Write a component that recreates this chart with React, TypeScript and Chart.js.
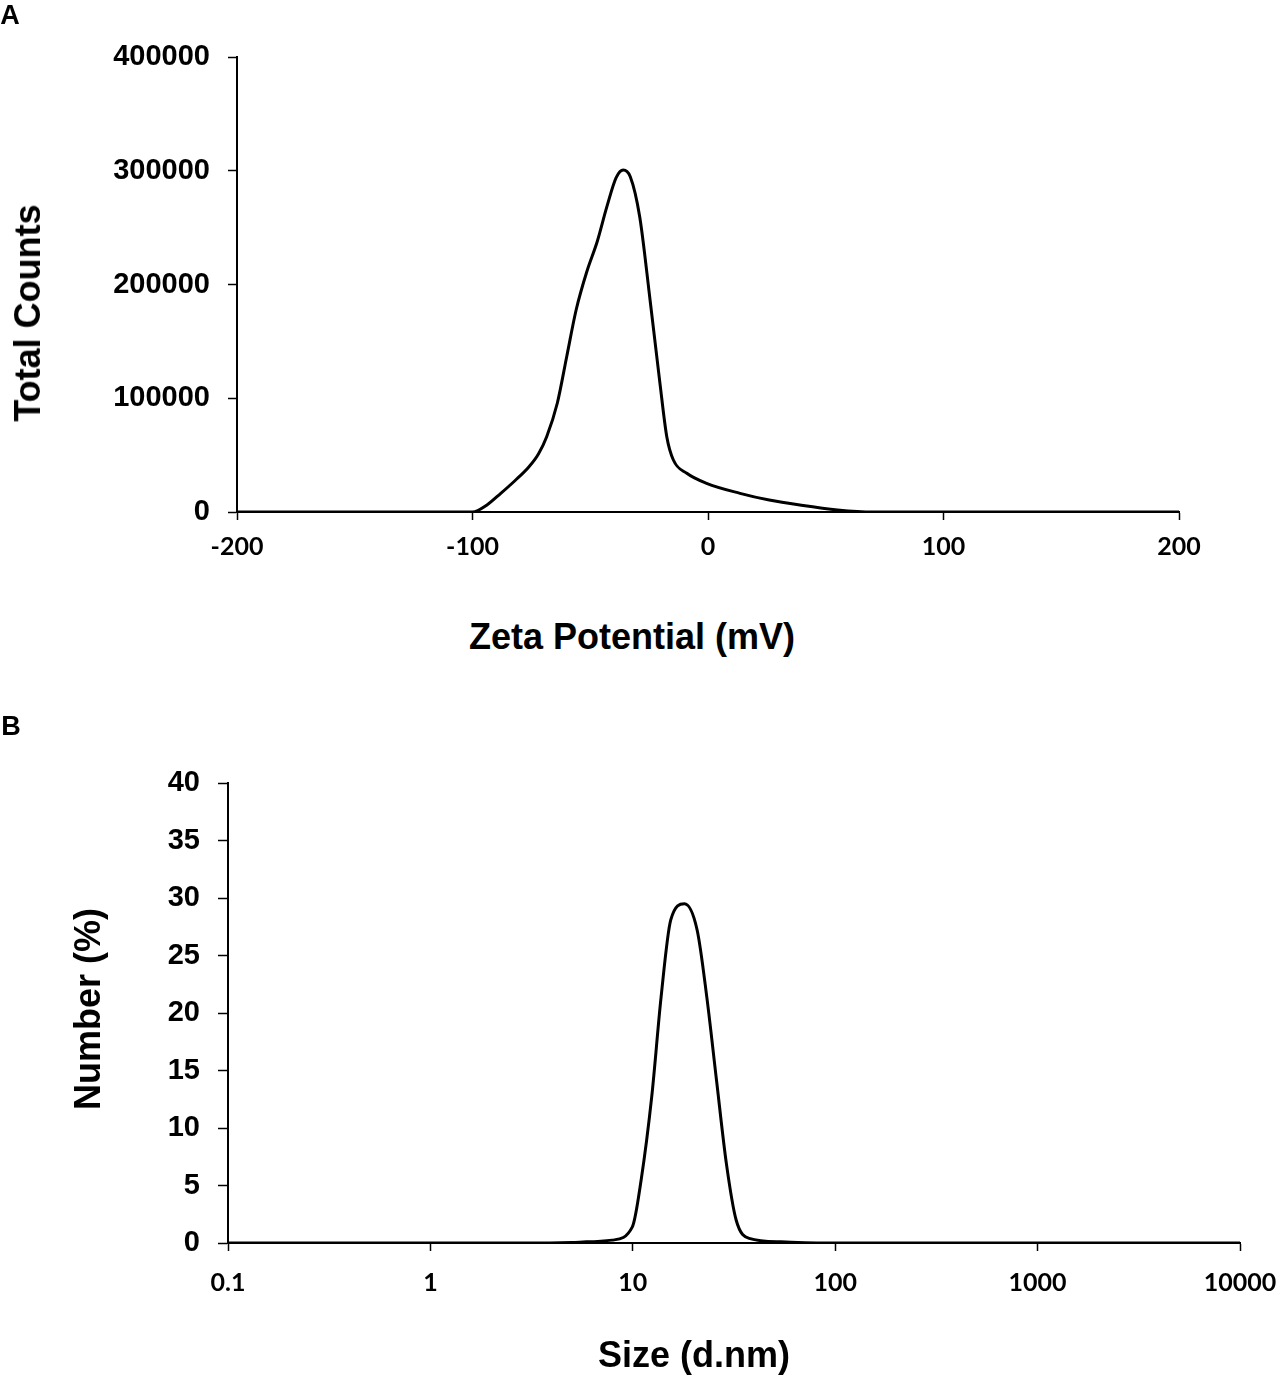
import { useEffect, useRef } from 'react';
import { Chart, registerables } from 'chart.js';

Chart.register(...registerables);

// Panel A: zeta potential distribution
const zetaMv = [-200, -150, -110, -100, -94, -88, -82, -76, -72, -68.5, -64, -60, -56, -51.5, -47, -43, -39, -36, -33, -29, -24.6, -20.4, -17.5, -14.7, -9, -0.6, 13.6, 26, 39, 55, 70, 100, 150, 200];
const zetaCounts = [0, 0, 0, 0, 6000, 16400, 27500, 39800, 51000, 66200, 95600, 136500, 177600, 211000, 238000, 268000, 294000, 300700, 294800, 259600, 186400, 113100, 66200, 45700, 34000, 25200, 16400, 10500, 6100, 1800, 0, 0, 0, 0];
const zetaXTicks = [-200, -100, 0, 100, 200];
const zetaYTicks = [0, 100000, 200000, 300000, 400000];

// Panel B: size distribution by number
const sizeNm = [0.1, 1, 3, 5, 5.9, 7.9, 9.95, 11, 12.4, 13.8, 15.4, 18, 20.8, 23.2, 25.9, 29, 32.4, 37.6, 54, 100, 1000, 10000];
const sizeNumber = [0, 0, 0, 0.05, 0.1, 0.25, 1.4, 5.5, 12.7, 21.4, 28.1, 29.5, 27.2, 21.4, 14.2, 6.9, 2.0, 0.4, 0.1, 0, 0, 0];
const sizeXTicks = [0.1, 1, 10, 100, 1000, 10000];
const sizeYTicks = [0, 5, 10, 15, 20, 25, 30, 35, 40];

const ARIAL = '"Liberation Sans", Arial, sans-serif';
const CALIBRI = 'Lato, "Open Sans", sans-serif';

interface PanelProps {
  top: number;
  height: number;
  xs: number[];
  ys: number[];
  xType: 'linear' | 'logarithmic';
  xTicks: number[];
  yTicks: number[];
  area: { left: number; right: number; top: number; bottom: number };
  yTickLength: number;
  xLabelPad: number;
}

function Panel({ top, height, xs, ys, xType, xTicks, yTicks, area, yTickLength, xLabelPad }: PanelProps) {
  const canvasRef = useRef<HTMLCanvasElement>(null);
  const chartRef = useRef<any>(null);

  useEffect(() => {
    if (!canvasRef.current) return;
    if (chartRef.current) chartRef.current.destroy();

    const points = xs.map((x, i) => ({ x, y: ys[i] }));

    chartRef.current = new Chart(canvasRef.current, {
      type: 'line',
      data: {
        datasets: [{
          data: points,
          borderColor: '#000',
          borderWidth: 3,
          pointRadius: 0,
          cubicInterpolationMode: 'monotone',
          fill: false,
        }],
      },
      options: {
        responsive: true,
        maintainAspectRatio: false,
        animation: false,
        layout: {
          padding: { top: area.top, right: 1281 - area.right, left: 0, bottom: 0 },
        },
        plugins: {
          legend: { display: false },
          tooltip: { enabled: false },
        },
        scales: {
          x: {
            type: xType,
            min: xTicks[0],
            max: xTicks[xTicks.length - 1],
            afterFit: (scale: any) => {
              scale.height = height - area.bottom;
              scale.paddingLeft = 0;
              scale.paddingRight = 0;
            },
            afterBuildTicks: (scale: any) => { scale.ticks = xTicks.map((v) => ({ value: v })); },
            border: { display: true, color: '#000', width: 2 },
            grid: { display: true, drawOnChartArea: false, drawTicks: true, tickLength: 8, tickColor: '#000', tickWidth: 1.5 },
            ticks: {
              autoSkip: false,
              maxRotation: 0,
              padding: xLabelPad,
              color: '#000',
              font: { family: CALIBRI, size: 25, weight: 'bold' },
              callback: (v: any) => String(v),
            },
          },
          y: {
            min: yTicks[0],
            max: yTicks[yTicks.length - 1],
            afterFit: (scale: any) => { scale.width = area.left; },
            afterBuildTicks: (scale: any) => { scale.ticks = yTicks.map((v) => ({ value: v })); },
            border: { display: true, color: '#000', width: 2 },
            grid: { display: true, drawOnChartArea: false, drawTicks: true, tickLength: yTickLength, tickColor: '#000', tickWidth: 1.5 },
            ticks: {
              padding: 18,
              color: '#000',
              font: { family: ARIAL, size: 29, weight: 'bold' },
              callback: (v: any) => String(v),
            },
          },
        },
      },
    });

    return () => {
      if (chartRef.current) {
        chartRef.current.destroy();
        chartRef.current = null;
      }
    };
  }, []);

  return (
    <div style={{ position: 'absolute', left: 0, top, width: 1281, height }}>
      <canvas ref={canvasRef}></canvas>
    </div>
  );
}

function Label({ x, y, size, text, rotate }: { x: number; y: number; size: number; text: string; rotate?: boolean }) {
  return (
    <div
      style={{
        position: 'absolute',
        left: x,
        top: y,
        transform: `translate(-50%, -50%)${rotate ? ' rotate(-90deg)' : ''}`,
        fontFamily: ARIAL,
        fontWeight: 'bold',
        fontSize: size,
        lineHeight: 1,
        whiteSpace: 'nowrap',
        color: '#000',
      }}
    >
      {text}
    </div>
  );
}

export default function App() {
  return (
    <div style={{ position: 'absolute', left: 0, top: 0, width: 1281, height: 1376, background: '#fff', overflow: 'hidden' }}>
      <Panel
        top={0}
        height={600}
        xs={zetaMv}
        ys={zetaCounts}
        xType="linear"
        xTicks={zetaXTicks}
        yTicks={zetaYTicks}
        area={{ left: 237, right: 1179, top: 57, bottom: 512 }}
        yTickLength={9}
        xLabelPad={12}
      />
      <Panel
        top={700}
        height={676}
        xs={sizeNm}
        ys={sizeNumber}
        xType="logarithmic"
        xTicks={sizeXTicks}
        yTicks={sizeYTicks}
        area={{ left: 228, right: 1240, top: 83, bottom: 543 }}
        yTickLength={10}
        xLabelPad={17}
      />
      <Label x={10} y={15} size={27} text="A" />
      <Label x={28} y={313} size={36} text="Total Counts" rotate />
      <Label x={632} y={637} size={36} text="Zeta Potential (mV)" />
      <Label x={11} y={726} size={27} text="B" />
      <Label x={88} y={1009} size={36} text="Number (%)" rotate />
      <Label x={694} y={1355} size={36} text="Size (d.nm)" />
    </div>
  );
}
